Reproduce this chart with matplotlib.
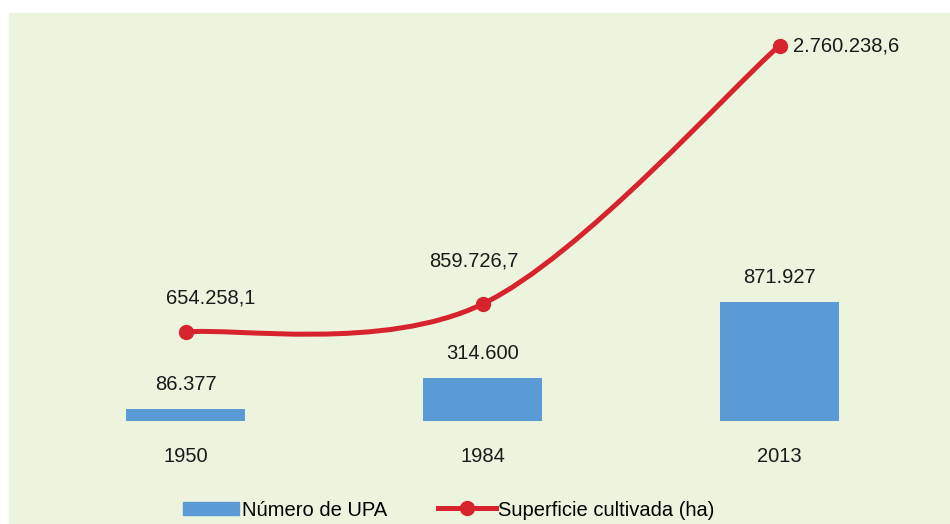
import matplotlib
matplotlib.use("Agg")
import matplotlib.pyplot as plt
import numpy as np
from matplotlib.path import Path
from matplotlib.patches import PathPatch, Rectangle
from matplotlib.lines import Line2D

plt.rcParams['font.family'] = ['Liberation Sans', 'DejaVu Sans']

# datos
anios = ['1950', '1984', '2013']
upa = [86377, 314600, 871927]
superficie = [654258.1, 859726.7, 2760238.6]

verde = '#EDF4DE'
azul = '#5B9BD5'
rojo = '#D7232E'
negro = '#1A1A1A'


def fmt(v, dec=0):
    s = f"{v:,.{dec}f}"
    return s.replace(',', 'X').replace('.', ',').replace('X', '.')


fig = plt.figure(figsize=(9.5, 5.24), dpi=100)
fig.patch.set_facecolor('white')
fig.patches.append(Rectangle((9 / 950, 0), 1, (524 - 13) / 524,
                             transform=fig.transFigure, color=verde, zorder=-10))

ax = fig.add_axes([37 / 950, 103 / 524, 891 / 950, 408 / 524])
ax.set_facecolor('none')
x = np.arange(len(anios))

ax.bar(x, upa, width=0.4, color=azul, zorder=2)

# linea suavizada (tipo Excel, Catmull-Rom -> Bezier)
pts = np.column_stack([x, superficie]).astype(float)
ext = np.vstack([pts[0], pts, pts[-1]])
verts = [tuple(pts[0])]
codes = [Path.MOVETO]
for i in range(len(pts) - 1):
    p0, p1, p2, p3 = ext[i], ext[i + 1], ext[i + 2], ext[i + 3]
    c1 = p1 + (p2 - p0) / 6
    c2 = p2 - (p3 - p1) / 6
    verts += [tuple(c1), tuple(c2), tuple(p2)]
    codes += [Path.CURVE4] * 3
ax.add_patch(PathPatch(Path(verts, codes), facecolor='none', edgecolor=rojo,
                       lw=3.6, capstyle='round', zorder=3))
ax.plot(x, superficie, 'o', color=rojo, ms=10, zorder=4)

fs = 14.5
for xi, v in zip(x, upa):
    ax.annotate(fmt(v), (xi, v), xytext=(0, 18), textcoords='offset points',
                ha='center', va='center', fontsize=fs, color=negro)

offs = [((18, 24.5), 'center'), ((-6.5, 31), 'center'), ((9.4, 0), 'left')]
for xi, v, (o, ha) in zip(x, superficie, offs):
    ax.annotate(fmt(v, 1), (xi, v), xytext=o, textcoords='offset points',
                ha=ha, va='center', fontsize=fs, color=negro)

ax.set_xlim(-0.5, 2.5)
ax.set_ylim(0, 3.0e6)
ax.set_xticks(x)
ax.set_xticklabels(anios, fontsize=fs, color=negro)
ax.tick_params(axis='x', length=0, pad=19)
ax.set_yticks([])
for s in ax.spines.values():
    s.set_visible(False)

# leyenda (dos entradas colocadas por separado)
h1 = Rectangle((0, 0), 1, 1, color=azul)
h2 = Line2D([], [], color=rojo, lw=3.6, marker='o', ms=10)
fig.legend([h1], ['Número de UPA'], loc='center left',
           bbox_to_anchor=(183 / 950, 1 - 510 / 524), frameon=False,
           fontsize=fs, handlelength=2.8, handleheight=0.6,
           handletextpad=0.15, borderaxespad=0, borderpad=0)
fig.legend([h2], ['Superficie cultivada (ha)'], loc='center left',
           bbox_to_anchor=(438 / 950, 1 - 510 / 524), frameon=False,
           fontsize=fs, handlelength=2.9,
           handletextpad=0.1, borderaxespad=0, borderpad=0)

fig.savefig('out.png', dpi=100, facecolor='white')
